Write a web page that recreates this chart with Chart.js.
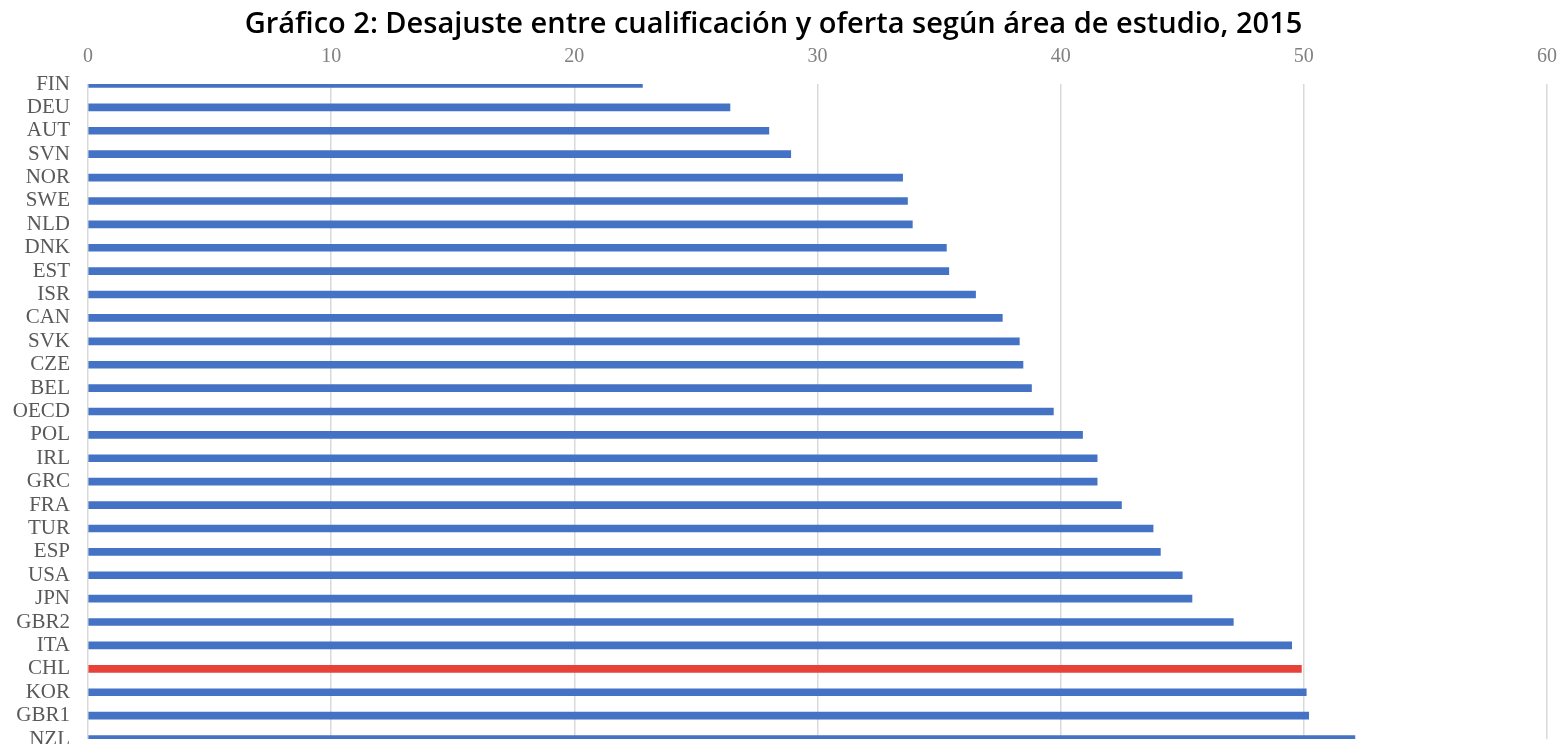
<!DOCTYPE html>
<html>
<head>
<meta charset="utf-8">
<script src="https://cdn.jsdelivr.net/npm/chart.js@4/dist/chart.umd.min.js"></script>
<style>
  html, body { margin: 0; padding: 0; background: #ffffff; }
  #wrap { width: 1565px; height: 744px; position: relative; }
</style>
</head>
<body>
<div id="wrap"><canvas id="c" width="1565" height="744"></canvas></div>
<script>
const titleText = 'Gráfico 2: Desajuste entre cualificación y oferta según área de estudio, 2015';
const countries = ['FIN','DEU','AUT','SVN','NOR','SWE','NLD','DNK','EST','ISR','CAN','SVK','CZE','BEL','OECD','POL','IRL','GRC','FRA','TUR','ESP','USA','JPN','GBR2','ITA','CHL','KOR','GBR1','NZL'];
const mismatch = [22.8, 26.4, 28.0, 28.9, 33.5, 33.7, 33.9, 35.3, 35.4, 36.5, 37.6, 38.3, 38.45, 38.8, 39.7, 40.9, 41.5, 41.5, 42.5, 43.8, 44.1, 45.0, 45.4, 47.1, 49.5, 49.9, 50.1, 50.2, 52.1];
const highlighted = ['CHL'];
const xTickValues = [0, 10, 20, 30, 40, 50, 60];

const BLUE = '#4472C4';
const RED = '#E8413A';

new Chart(document.getElementById('c'), {
  type: 'bar',
  data: {
    labels: countries,
    datasets: [{
      data: mismatch,
      backgroundColor: ctx => highlighted.includes(countries[ctx.dataIndex]) ? RED : BLUE,
      barThickness: 7,
      borderWidth: 0
    }]
  },
  options: {
    indexAxis: 'y',
    responsive: false,
    animation: false,
    layout: { padding: { left: 0, right: 18, top: 0, bottom: 5 } },
    plugins: {
      legend: { display: false },
      tooltip: { enabled: false },
      title: {
        display: true,
        text: titleText,
        color: '#000000',
        font: { family: 'Open Sans', size: 29, weight: '600', lineHeight: 1.2 },
        padding: { top: 7, bottom: 0 }
      }
    },
    scales: {
      x: {
        position: 'top',
        min: xTickValues[0],
        max: xTickValues[xTickValues.length - 1],
        afterBuildTicks: s => { s.ticks = xTickValues.map(v => ({ value: v })); },
        afterFit: s => { s.height = 42.2; s.paddingLeft = 0; s.paddingRight = 0; },
        border: { display: false },
        grid: { color: '#d9d9d9', lineWidth: 1.5, drawTicks: false },
        ticks: {
          padding: 15,
          color: '#808080',
          font: { family: 'Liberation Serif', size: 20 }
        }
      },
      y: {
        offset: false,
        afterFit: s => { s.width = 88; s.paddingTop = 0; s.paddingBottom = 0; },
        border: { display: false },
        grid: { display: false, drawTicks: false },
        ticks: {
          padding: 18,
          autoSkip: false,
          color: '#595959',
          font: { family: 'Liberation Serif', size: 21 }
        }
      }
    }
  }
});
</script>
</body>
</html>
